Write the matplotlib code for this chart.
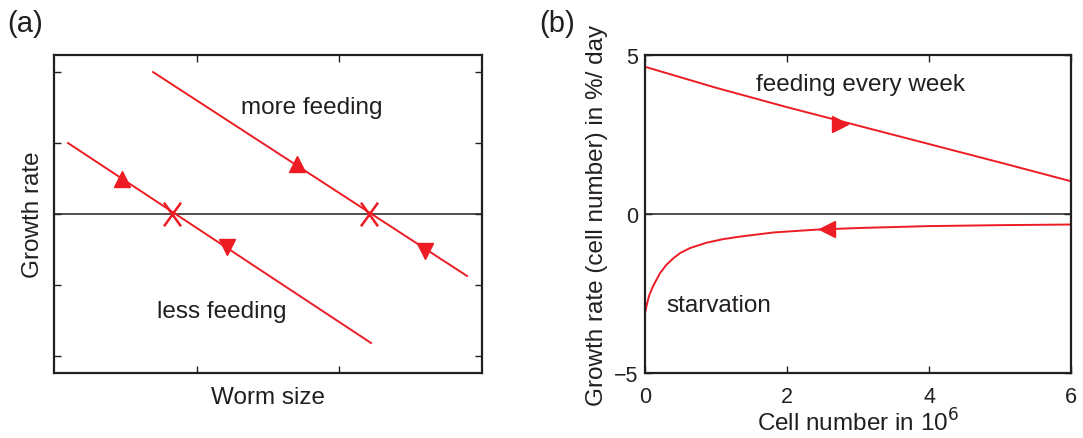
import matplotlib
matplotlib.use("Agg")
import matplotlib.pyplot as plt
from matplotlib.path import Path
import numpy as np

plt.rcParams['font.family'] = ['Liberation Sans', 'DejaVu Sans']
plt.rcParams['font.size'] = 17.5

RED = '#ED1C24'
TXT = '#231F20'

# ---- panel (a) data ----
more_x = [0.694, 2.895]
more_y = [2.0, -0.873]
less_x = [0.098, 2.222]
less_y = [1.0, -1.817]
up_x = [0.477, 1.703]
up_y = [0.49, 0.70]
down_x = [1.213, 2.60]
down_y = [-0.46, -0.52]
fixed_x = [0.827, 2.208]
fixed_y = [0.0, 0.0]

# ---- panel (b) data ----
feed_x = [0, 1, 2, 3, 4, 5, 6]
feed_y = [4.63, 3.97, 3.36, 2.78, 2.20, 1.62, 1.03]
starv_x = [0, 0.03, 0.06, 0.117, 0.211, 0.3, 0.399, 0.5, 0.634, 0.869, 1.1,
           1.338, 1.808, 2.42, 3, 4, 5, 6]
starv_y = [-3.11, -2.8, -2.55, -2.25, -1.86, -1.6, -1.39, -1.22, -1.07, -0.90,
           -0.79, -0.71, -0.58, -0.49, -0.44, -0.38, -0.35, -0.33]
arrow_b_right = (2.74, 2.84)
arrow_b_left = (2.56, -0.47)

# tall cross marker (as in the original)
XMARK = Path([(-0.72, -1), (0.72, 1), (-0.72, 1), (0.72, -1)],
             [Path.MOVETO, Path.LINETO, Path.MOVETO, Path.LINETO])

fig = plt.figure(figsize=(10.83, 4.39), dpi=100)
axa = fig.add_axes([0.0499, 0.148, 0.3952, 0.7244])
axb = fig.add_axes([0.5956, 0.148, 0.3934, 0.7244])

for ax in (axa, axb):
    for s in ax.spines.values():
        s.set_linewidth(1.6)
        s.set_color(TXT)
    ax.tick_params(direction='in', top=True, right=True, length=5, width=1.0,
                   colors=TXT, labelsize=15.5, pad=5)

# panel (a)
axa.axhline(0, color=TXT, lw=1.1, zorder=1)
axa.plot(more_x, more_y, color=RED, lw=1.4, zorder=2)
axa.plot(less_x, less_y, color=RED, lw=1.4, zorder=2)
axa.plot(up_x, up_y, '^', color=RED, ms=12, mec=RED, zorder=3)
axa.plot(down_x, down_y, 'v', color=RED, ms=12, mec=RED, zorder=3)
axa.plot(fixed_x, fixed_y, marker=XMARK, ls='none', color=RED, ms=17, mew=1.8, zorder=3)
axa.set_xlim(0, 3)
axa.set_ylim(-2.24, 2.24)
axa.set_xticks([1, 2])
axa.set_yticks([-2, -1, 0, 1, 2])
axa.set_xticklabels([])
axa.set_yticklabels([])
axa.set_xlabel('Worm size', color=TXT, labelpad=4)
axa.set_ylabel('Growth rate', color=TXT, labelpad=2)
axa.text(1.311, 1.507, 'more feeding', ha='left', va='center', color=TXT)
axa.text(0.722, -1.366, 'less feeding', ha='left', va='center', color=TXT)
fig.text(0.023, 0.945, '(a)', ha='center', va='center', color=TXT, fontsize=21)

# panel (b)
axb.axhline(0, color=TXT, lw=1.1, zorder=1)
axb.plot(feed_x, feed_y, color=RED, lw=1.4, zorder=2)
axb.plot(starv_x, starv_y, color=RED, lw=1.4, zorder=2)
axb.plot([arrow_b_right[0]], [arrow_b_right[1]], '>', color=RED, ms=12, zorder=3)
axb.plot([arrow_b_left[0]], [arrow_b_left[1]], '<', color=RED, ms=12, zorder=3)
axb.set_xlim(0, 6)
axb.set_ylim(-5, 5)
axb.set_xticks([0, 2, 4, 6])
axb.set_yticks([-5, 0, 5])
axb.set_yticklabels(['\u22125', '0', '5'])
axb.tick_params(axis='x', pad=9)
axb.set_xlabel('Cell number in 10$^6$', color=TXT, labelpad=1)
axb.set_ylabel('Growth rate (cell number) in %/ day', color=TXT, labelpad=4)
axb.text(1.563, 4.09, 'feeding every week', ha='left', va='center', color=TXT)
axb.text(0.306, -2.86, 'starvation', ha='left', va='center', color=TXT)
fig.text(0.514, 0.945, '(b)', ha='center', va='center', color=TXT, fontsize=21)

fig.savefig('out.png', dpi=100)
